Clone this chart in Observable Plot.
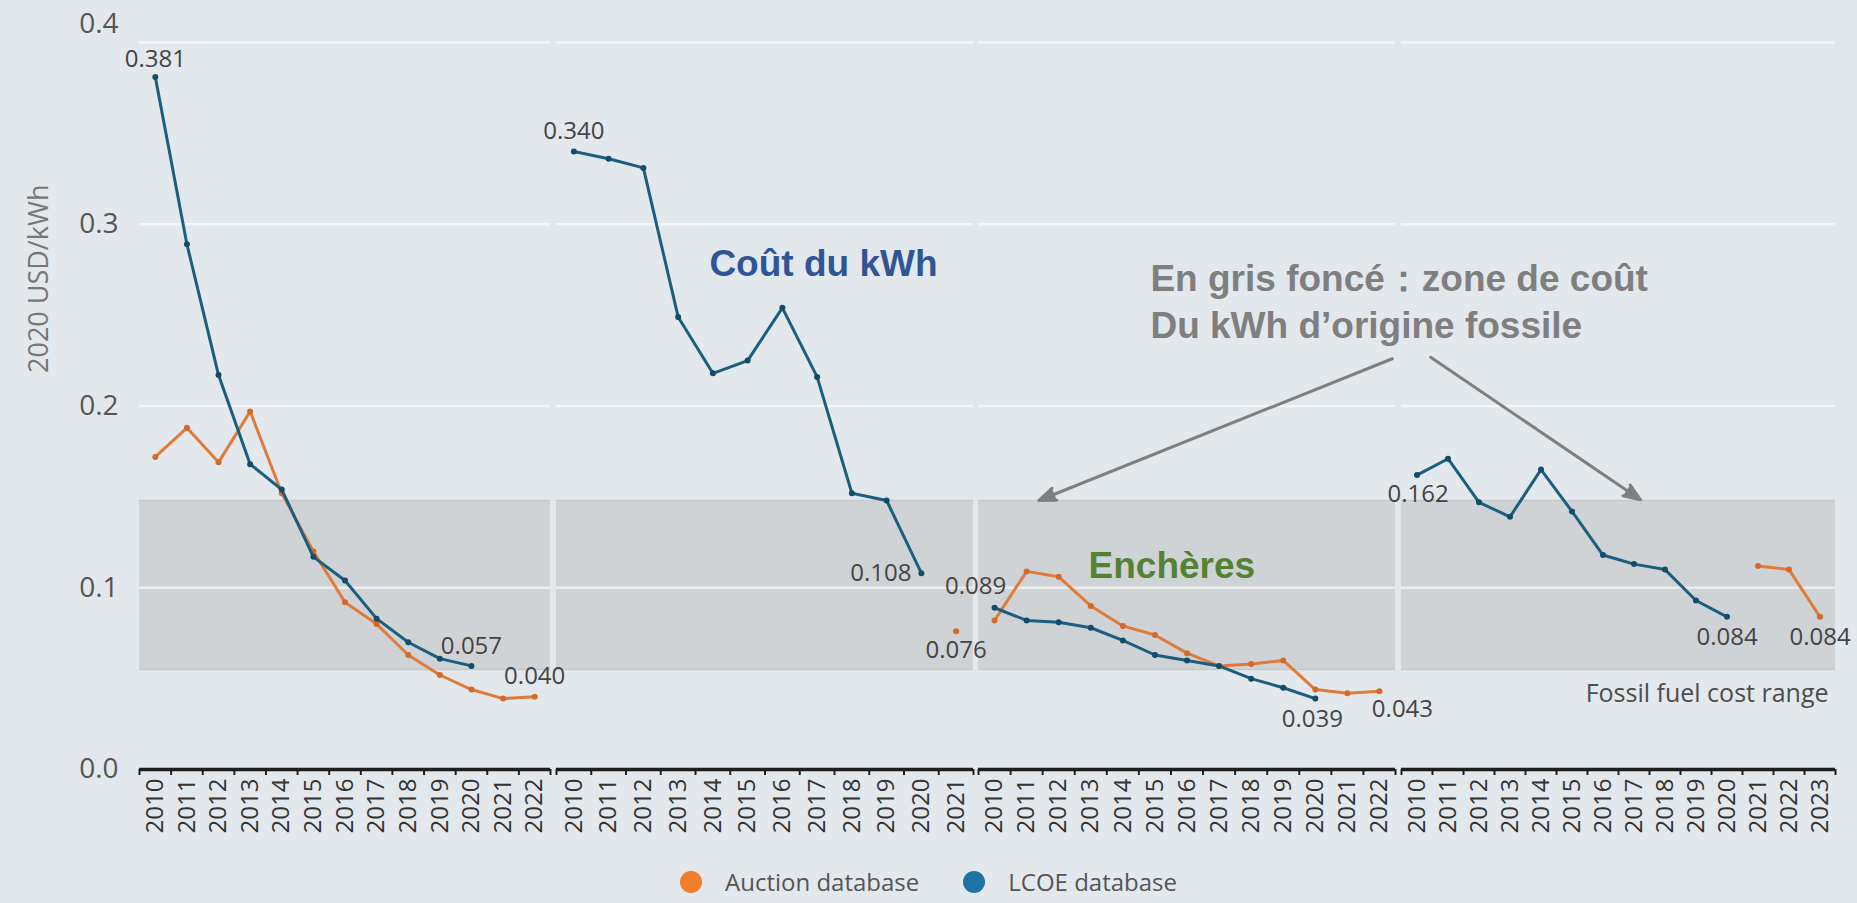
<!DOCTYPE html>
<html>
<head>
<meta charset="utf-8">
<script src="https://cdn.jsdelivr.net/npm/d3@7"></script>
<script src="https://cdn.jsdelivr.net/npm/@observablehq/plot@0.6"></script>
<style>
  html, body { margin: 0; padding: 0; background: #e3e8ec; overflow: hidden; }
  #chart { position: relative; width: 1857px; height: 860px; }
  .row { position: absolute; left: 0; top: 0; display: flex; flex-wrap: nowrap; width: 1857px; }
  .row svg { flex: 0 0 auto; }
  #legend { display: flex; justify-content: center; align-items: center; height: 43px; width: 1857px;
            font-family: "Open Sans", sans-serif; font-size: 24px; color: #555; }
  #legend .sw { display: inline-block; width: 22px; height: 22px; border-radius: 50%; margin-right: 23px; }
  #legend .item { display: inline-flex; align-items: center; }
  #legend .item + .item { margin-left: 44px; }
</style>
</head>
<body>
<div id="chart"><div class="row" id="bg"></div><div class="row" id="fg"></div></div>
<div id="legend"></div>
<script>
// ---------------- DATA ----------------
const yearsP1 = [2010, 2011, 2012, 2013, 2014, 2015, 2016, 2017, 2018, 2019, 2020, 2021, 2022];
const lcoeP1 = [0.381, 0.289, 0.217, 0.168, 0.154, 0.117, 0.104, 0.083, 0.070, 0.061, 0.057, null, null];
const auctionP1 = [0.172, 0.188, 0.169, 0.197, 0.152, 0.120, 0.092, 0.080, 0.063, 0.052, 0.044, 0.039, 0.040];

const yearsP2 = [2010, 2011, 2012, 2013, 2014, 2015, 2016, 2017, 2018, 2019, 2020, 2021];
const lcoeP2 = [0.340, 0.336, 0.331, 0.249, 0.218, 0.225, 0.254, 0.216, 0.152, 0.148, 0.108, null];
const auctionP2 = [null, null, null, null, null, null, null, null, null, null, null, 0.076];

const yearsP3 = [2010, 2011, 2012, 2013, 2014, 2015, 2016, 2017, 2018, 2019, 2020, 2021, 2022];
const lcoeP3 = [0.089, 0.082, 0.081, 0.078, 0.071, 0.063, 0.060, 0.057, 0.050, 0.045, 0.039, null, null];
const auctionP3 = [0.082, 0.109, 0.106, 0.090, 0.079, 0.074, 0.064, 0.057, 0.058, 0.060, 0.044, 0.042, 0.043];

const yearsP4 = [2010, 2011, 2012, 2013, 2014, 2015, 2016, 2017, 2018, 2019, 2020, 2021, 2022, 2023];
const lcoeP4 = [0.162, 0.171, 0.147, 0.139, 0.165, 0.142, 0.118, 0.113, 0.110, 0.093, 0.084, null, null, null];
const auctionP4 = [null, null, null, null, null, null, null, null, null, null, null, 0.112, 0.110, 0.084];

const yTicks = [0, 0.1, 0.2, 0.3, 0.4];
const fossilRange = [0.055, 0.148];
const yTitle = "2020 USD/kWh";
const legendNames = ["Auction database", "LCOE database"];
const fossilLabel = "Fossil fuel cost range";
const noteCost = "Coût du kWh";
const noteAuction = "Enchères";
const noteFossil = "En gris foncé：zone de coût\nDu kWh d’origine fossile";

// points that carry a value label
const labelledPoints = [
  {panel: 0, series: "lcoe", year: 2010},
  {panel: 0, series: "lcoe", year: 2020},
  {panel: 0, series: "auction", year: 2022},
  {panel: 1, series: "lcoe", year: 2010},
  {panel: 1, series: "lcoe", year: 2020},
  {panel: 1, series: "auction", year: 2021},
  {panel: 2, series: "lcoe", year: 2010},
  {panel: 2, series: "lcoe", year: 2020},
  {panel: 2, series: "auction", year: 2022},
  {panel: 3, series: "lcoe", year: 2010},
  {panel: 3, series: "lcoe", year: 2020},
  {panel: 3, series: "auction", year: 2023}
];

// ---------------- DRAWING ----------------
const panelYears = [yearsP1, yearsP2, yearsP3, yearsP4];
const panelLcoe = [lcoeP1, lcoeP2, lcoeP3, lcoeP4];
const panelAuction = [auctionP1, auctionP2, auctionP3, auctionP4];

const COL = {
  lcoe: "#1b5f80", lcoeDot: "#144c68", lcoeLegend: "#1d72a6",
  auction: "#e07b3c", auctionDot: "#d46a2a", auctionLegend: "#f27d2c",
  band: "#cfd3d6", bandEdge: "#c5c9cc", grid: "#ffffff",
  axis: "#1e1e1e", tick: "#333", label: "#444", note: "#7f7f7f"
};
const FONT = "'Open Sans', sans-serif";
const BOLD = "'Liberation Sans', Arial, sans-serif";

const layout = [
  {width: 556, marginLeft: 139, marginRight: 6},
  {width: 422, marginLeft: 0, marginRight: 5},
  {width: 423, marginLeft: 0, marginRight: 6},
  {width: 456, marginLeft: 0, marginRight: 22}
];
const H = 860, MT = 42, MB = 91;

const labelPlace = [
  {dx: 0, dy: -18, anchor: "middle"},
  {dx: 0, dy: -20, anchor: "middle"},
  {dx: 0, dy: -20, anchor: "middle"},
  {dx: 0, dy: -20, anchor: "middle"},
  {dx: -10, dy: 0, anchor: "end"},
  {dx: 0, dy: 19, anchor: "middle"},
  {dx: -19, dy: -21, anchor: "middle"},
  {dx: -3, dy: 21, anchor: "middle"},
  {dx: 23, dy: 18, anchor: "middle"},
  {dx: 1, dy: 19, anchor: "middle"},
  {dx: 0, dy: 20, anchor: "middle"},
  {dx: 0, dy: 20, anchor: "middle"}
];

const fmt3 = d3.format(".3f");
const fmt1 = d3.format(".1f");
const bgRow = document.getElementById("bg");
const fgRow = document.getElementById("fg");

function makePlot(p, x0, x1, marks) {
  const L = layout[p];
  return Plot.plot({
    width: L.width, height: H,
    marginLeft: L.marginLeft, marginRight: L.marginRight, marginTop: MT, marginBottom: MB,
    style: {background: "transparent", overflow: "visible", fontFamily: FONT},
    x: {type: "linear", domain: [x0, x1], axis: null},
    y: {domain: [0, 0.4], axis: null},
    marks
  });
}

panelYears.forEach((years, p) => {
  const rows = years.map((year, i) => ({year, lcoe: panelLcoe[p][i], auction: panelAuction[p][i]}));
  const lcoeRows = rows.filter(d => d.lcoe != null);
  const aucRows = rows.filter(d => d.auction != null);
  const x0 = years[0] - 0.5, x1 = years[years.length - 1] + 0.5;
  const edges = [...years.map(y => y - 0.5), x1];

  // background layer: band, grid, axis
  const bg = [
    Plot.rect([fossilRange], {x1: x0, x2: x1, y1: d => d[0], y2: d => d[1], fill: COL.band}),
    Plot.ruleY(fossilRange, {stroke: COL.bandEdge, strokeWidth: 1.5}),
    Plot.ruleY(yTicks.filter(t => t > 0), {stroke: COL.grid, strokeOpacity: 0.6, strokeWidth: 2.5}),
    Plot.ruleY([0], {stroke: COL.axis, strokeWidth: 3.5}),
    Plot.ruleX(edges, {x: d => d, y1: 0, y2: 0, insetBottom: -6, stroke: COL.axis, strokeWidth: 2}),
    Plot.text(years, {x: d => d, y: 0, text: d => String(d), rotate: -90, textAnchor: "end",
      lineAnchor: "middle", dy: 9, fontSize: 24, fill: COL.tick, fontFamily: FONT})
  ];
  if (p === 0) {
    bg.push(
      Plot.axisY(yTicks.filter(t => t < 0.4), {tickSize: 0, tickPadding: 21, fontSize: 28,
        color: "#555", tickFormat: fmt1, label: null, fontFamily: FONT}),
      Plot.axisY([0.4], {tickSize: 0, tickPadding: 21, fontSize: 28, color: "#555",
        tickFormat: fmt1, label: null, dy: -18, fontFamily: FONT}),
      Plot.text([yTitle], {frameAnchor: "left", y: 0.27, dx: -100, rotate: -90, text: d => d,
        textAnchor: "middle", lineAnchor: "middle", fontSize: 27, fill: "#777", fontFamily: FONT})
    );
  }
  if (p === 3) {
    bg.push(Plot.text([fossilLabel], {x: x1, y: 0.037, text: d => d, dx: -7, textAnchor: "end",
      lineAnchor: "bottom", fontSize: 25, fill: "#4d4d4d", fontFamily: FONT}));
  }

  // foreground layer: series, labels, notes
  const fg = [
    Plot.line(aucRows, {x: "year", y: "auction", stroke: COL.auction, strokeWidth: 3}),
    Plot.dot(aucRows, {x: "year", y: "auction", r: 3, fill: COL.auctionDot}),
    Plot.line(lcoeRows, {x: "year", y: "lcoe", stroke: COL.lcoe, strokeWidth: 3}),
    Plot.dot(lcoeRows, {x: "year", y: "lcoe", r: 3, fill: COL.lcoeDot})
  ];
  labelledPoints.forEach((lp, k) => {
    if (lp.panel !== p) return;
    const r = rows.find(d => d.year === lp.year);
    const v = r[lp.series];
    const pl = labelPlace[k];
    fg.push(Plot.text([{year: lp.year, v}], {x: "year", y: "v", text: d => fmt3(d.v),
      dx: pl.dx, dy: pl.dy, textAnchor: pl.anchor, lineAnchor: "middle",
      fontSize: 24, fill: COL.label, fontFamily: FONT}));
  });
  if (p === 1) {
    fg.push(Plot.text([noteCost], {x: 2013.9, y: 0.2718, text: d => d, textAnchor: "start",
      lineAnchor: "bottom", fontSize: 37, fontWeight: "bold", fill: "#2f5597", fontFamily: BOLD}));
  }
  if (p === 2) {
    fg.push(
      Plot.text([noteAuction], {x: 2012.93, y: 0.1051, text: d => d, textAnchor: "start",
        lineAnchor: "bottom", fontSize: 37, fontWeight: "bold", fill: "#548235", fontFamily: BOLD}),
      Plot.text([noteFossil], {x: 2014.86, y: 0.2375, text: d => d, textAnchor: "start",
        lineAnchor: "bottom", lineHeight: 1.26, fontSize: 37, fontWeight: "bold", fill: COL.note, fontFamily: BOLD}),
      Plot.arrow([0], {x1: 2022.4, y1: 0.226, x2: 2011.38, y2: 0.148, stroke: COL.note, fill: COL.note,
        strokeWidth: 3, headLength: 9, headAngle: 42, strokeLinejoin: "miter"})
    );
  }
  if (p === 3) {
    fg.push(Plot.arrow([0], {x1: 2010.44, y1: 0.2268, x2: 2017.21, y2: 0.1484, stroke: COL.note, fill: COL.note,
      strokeWidth: 3, headLength: 9, headAngle: 42, strokeLinejoin: "miter"}));
  }

  bgRow.appendChild(makePlot(p, x0, x1, bg));
  fgRow.appendChild(makePlot(p, x0, x1, fg));
});

// legend
const legend = document.getElementById("legend");
const legendCols = [COL.auctionLegend, COL.lcoeLegend];
legendNames.forEach((name, i) => {
  const item = document.createElement("span");
  item.className = "item";
  const sw = document.createElement("span");
  sw.className = "sw";
  sw.style.background = legendCols[i];
  const t = document.createElement("span");
  t.textContent = name;
  item.appendChild(sw);
  item.appendChild(t);
  legend.appendChild(item);
});
</script>
</body>
</html>
